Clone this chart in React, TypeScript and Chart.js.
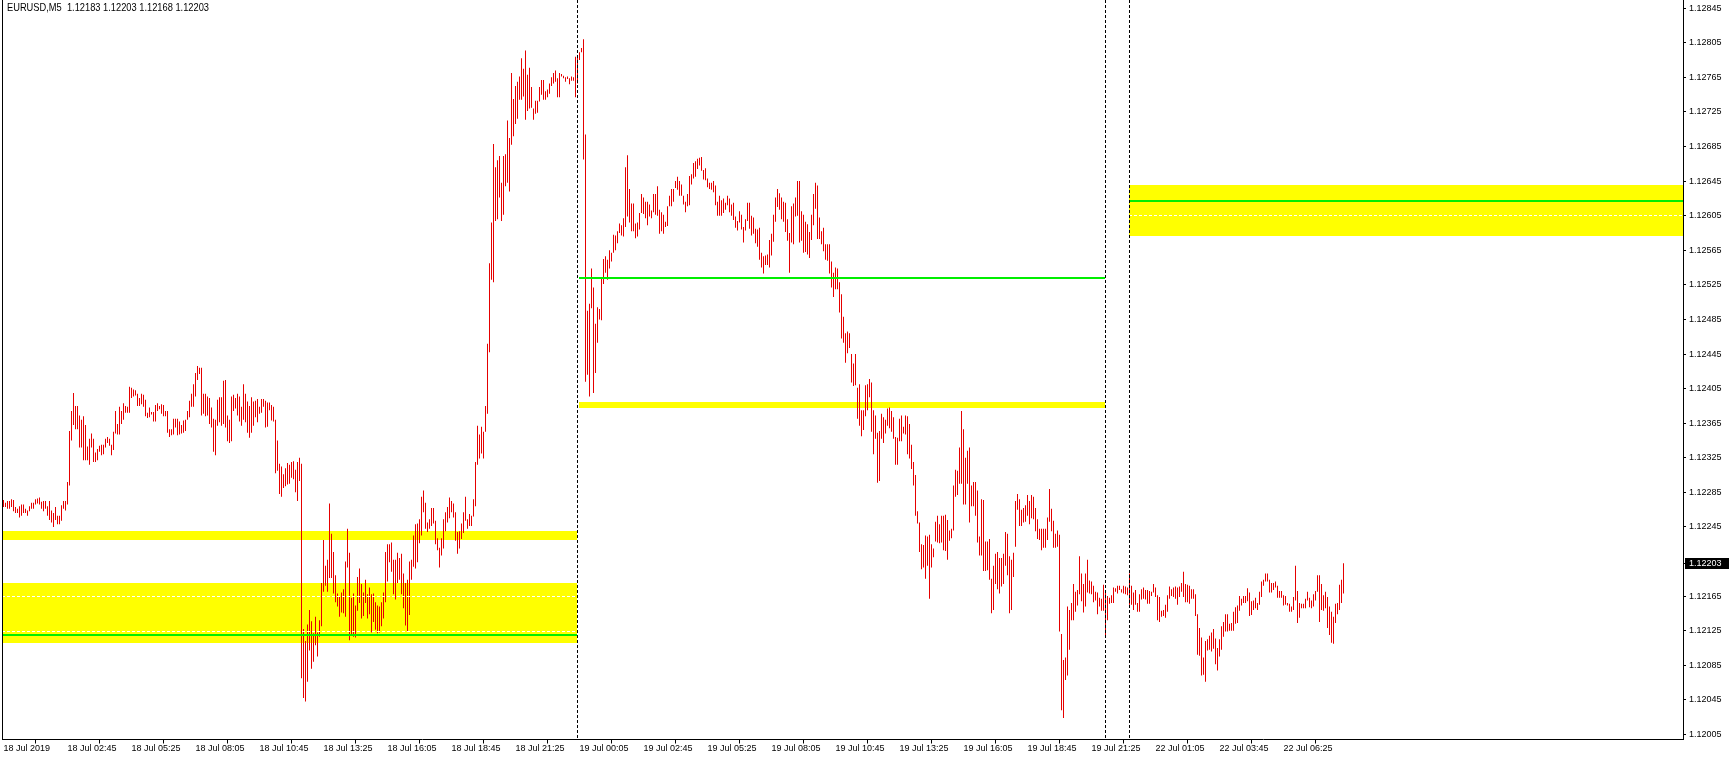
import React, { useEffect, useRef } from 'react';
import { Chart, registerables } from 'chart.js';

Chart.register(...registerables);

// ---- header values ----
const SYMBOL = 'EURUSD,M5';
const LAST_OHLC = [1.12183, 1.12203, 1.12168, 1.12203];
const CURRENT_PRICE = 1.12203;

// ---- M5 bars (high / low), bar index 0 = 18 Jul 2019 00:05 ----
const BAR_HIGHS = [
1.12276,1.12273,1.12275,1.12275,1.12277,1.12276,1.12268,1.12266,1.12269,1.12271,
1.12271,1.12266,1.12264,1.12269,1.12273,1.12273,1.12277,1.12278,1.12279,1.12274,
1.12275,1.12275,1.12269,1.12275,1.12264,1.12261,1.12268,1.12258,1.12258,1.12270,
1.12275,1.12275,1.12297,1.12356,1.12379,1.12400,1.12385,1.12385,1.12374,1.12369,
1.12373,1.12363,1.12338,1.12347,1.12353,1.12347,1.12331,1.12335,1.12339,1.12340,
1.12340,1.12347,1.12349,1.12347,1.12340,1.12355,1.12379,1.12364,1.12384,1.12379,
1.12388,1.12385,1.12384,1.12407,1.12406,1.12404,1.12403,1.12399,1.12394,1.12399,
1.12398,1.12392,1.12377,1.12383,1.12378,1.12378,1.12386,1.12388,1.12385,1.12387,
1.12386,1.12379,1.12379,1.12358,1.12358,1.12370,1.12370,1.12370,1.12367,1.12363,
1.12368,1.12369,1.12379,1.12391,1.12399,1.12410,1.12423,1.12431,1.12429,1.12429,
1.12399,1.12399,1.12396,1.12394,1.12383,1.12370,1.12369,1.12392,1.12395,1.12395,
1.12414,1.12415,1.12374,1.12369,1.12396,1.12398,1.12394,1.12399,1.12396,1.12384,
1.12410,1.12399,1.12390,1.12385,1.12395,1.12390,1.12391,1.12393,1.12384,1.12393,
1.12393,1.12391,1.12389,1.12389,1.12386,1.12384,1.12369,1.12345,1.12318,1.12315,
1.12306,1.12313,1.12319,1.12317,1.12320,1.12321,1.12311,1.12320,1.12325,1.12318,
1.12127,1.12113,1.12132,1.12149,1.12136,1.12122,1.12141,1.12123,1.12137,1.12180,
1.12230,1.12200,1.12207,1.12272,1.12237,1.12216,1.12189,1.12168,1.12165,1.12169,
1.12173,1.12205,1.12243,1.12215,1.12163,1.12168,1.12154,1.12187,1.12197,1.12179,
1.12169,1.12184,1.12167,1.12175,1.12167,1.12168,1.12158,1.12154,1.12153,1.12158,
1.12169,1.12216,1.12225,1.12225,1.12227,1.12207,1.12207,1.12215,1.12209,1.12214,
1.12191,1.12180,1.12184,1.12205,1.12207,1.12235,1.12248,1.12249,1.12254,1.12280,
1.12287,1.12273,1.12250,1.12254,1.12267,1.12267,1.12252,1.12232,1.12221,1.12232,
1.12254,1.12262,1.12268,1.12279,1.12275,1.12272,1.12262,1.12239,1.12240,1.12249,
1.12262,1.12280,1.12254,1.12260,1.12258,1.12277,1.12320,1.12362,1.12352,1.12361,
1.12355,1.12385,1.12457,1.12550,1.12597,1.12688,1.12661,1.12669,1.12674,1.12643,
1.12674,1.12676,1.12715,1.12695,1.12770,1.12740,1.12755,1.12760,1.12766,1.12787,
1.12775,1.12796,1.12768,1.12776,1.12754,1.12729,1.12738,1.12738,1.12754,1.12762,
1.12762,1.12749,1.12751,1.12758,1.12765,1.12770,1.12773,1.12764,1.12770,1.12769,
1.12767,1.12765,1.12766,1.12764,1.12766,1.12765,1.12789,1.12788,1.12794,1.12799,
1.12809,1.12699,1.12495,1.12503,1.12544,1.12522,1.12480,1.12499,1.12497,1.12533,
1.12555,1.12558,1.12554,1.12565,1.12562,1.12583,1.12582,1.12587,1.12596,1.12594,
1.12602,1.12661,1.12675,1.12636,1.12619,1.12619,1.12596,1.12597,1.12608,1.12630,
1.12626,1.12621,1.12621,1.12618,1.12611,1.12630,1.12630,1.12639,1.12612,1.12609,
1.12606,1.12598,1.12616,1.12628,1.12636,1.12636,1.12645,1.12650,1.12645,1.12641,
1.12628,1.12621,1.12630,1.12651,1.12653,1.12666,1.12668,1.12671,1.12672,1.12673,
1.12658,1.12660,1.12648,1.12643,1.12643,1.12645,1.12640,1.12621,1.12628,1.12623,
1.12625,1.12620,1.12628,1.12625,1.12618,1.12620,1.12604,1.12599,1.12610,1.12606,
1.12592,1.12601,1.12620,1.12620,1.12605,1.12603,1.12590,1.12589,1.12591,1.12562,
1.12558,1.12559,1.12560,1.12577,1.12584,1.12606,1.12626,1.12636,1.12631,1.12626,
1.12621,1.12620,1.12601,1.12585,1.12616,1.12619,1.12626,1.12645,1.12645,1.12610,
1.12606,1.12598,1.12595,1.12586,1.12606,1.12630,1.12643,1.12640,1.12603,1.12587,
1.12591,1.12572,1.12572,1.12572,1.12552,1.12539,1.12545,1.12544,1.12528,1.12514,
1.12488,1.12469,1.12471,1.12469,1.12445,1.12434,1.12445,1.12406,1.12410,1.12380,
1.12380,1.12409,1.12410,1.12416,1.12412,1.12380,1.12374,1.12354,1.12356,1.12376,
1.12372,1.12369,1.12382,1.12383,1.12379,1.12372,1.12349,1.12348,1.12370,1.12374,
1.12361,1.12374,1.12373,1.12364,1.12340,1.12320,1.12305,1.12263,1.12250,1.12225,
1.12224,1.12235,1.12234,1.12236,1.12225,1.12220,1.12251,1.12258,1.12248,1.12258,
1.12258,1.12259,1.12253,1.12241,1.12243,1.12293,1.12311,1.12310,1.12337,1.12379,
1.12358,1.12325,1.12333,1.12337,1.12293,1.12297,1.12297,1.12287,1.12234,1.12277,
1.12276,1.12228,1.12228,1.12231,1.12185,1.12200,1.12214,1.12216,1.12209,1.12209,
1.12214,1.12239,1.12237,1.12211,1.12207,1.12215,1.12275,1.12283,1.12277,1.12265,
1.12267,1.12270,1.12282,1.12275,1.12282,1.12280,1.12267,1.12254,1.12243,1.12243,
1.12243,1.12243,1.12256,1.12289,1.12266,1.12252,1.12237,1.12241,1.12236,1.12121,
1.12091,1.12094,1.12153,1.12149,1.12157,1.12179,1.12170,1.12172,1.12211,1.12191,
1.12179,1.12191,1.12207,1.12183,1.12182,1.12177,1.12170,1.12169,1.12163,1.12162,
1.12178,1.12172,1.12165,1.12163,1.12166,1.12175,1.12174,1.12177,1.12177,1.12173,
1.12177,1.12176,1.12175,1.12191,1.12177,1.12169,1.12172,1.12157,1.12167,1.12173,
1.12175,1.12172,1.12172,1.12171,1.12170,1.12179,1.12175,1.12166,1.12164,1.12148,
1.12149,1.12155,1.12166,1.12176,1.12173,1.12175,1.12176,1.12175,1.12176,1.12180,
1.12193,1.12179,1.12178,1.12177,1.12173,1.12173,1.12167,1.12144,1.12128,1.12117,
1.12094,1.12113,1.12115,1.12119,1.12123,1.12127,1.12116,1.12105,1.12115,1.12130,
1.12135,1.12144,1.12144,1.12133,1.12134,1.12147,1.12152,1.12154,1.12165,1.12162,
1.12165,1.12165,1.12174,1.12169,1.12159,1.12160,1.12163,1.12157,1.12170,1.12182,
1.12184,1.12191,1.12191,1.12184,1.12180,1.12180,1.12182,1.12177,1.12171,1.12171,
1.12166,1.12165,1.12157,1.12156,1.12153,1.12164,1.12200,1.12171,1.12157,1.12156,
1.12156,1.12162,1.12170,1.12163,1.12160,1.12167,1.12171,1.12189,1.12189,1.12179,
1.12166,1.12170,1.12164,1.12153,1.12147,1.12141,1.12156,1.12157,1.12178,1.12184,
1.12203
];

const BAR_LOWS = [
1.12268,1.12268,1.12266,1.12266,1.12268,1.12263,1.12261,1.12261,1.12256,1.12258,
1.12261,1.12261,1.12258,1.12263,1.12266,1.12266,1.12271,1.12272,1.12271,1.12266,
1.12263,1.12266,1.12258,1.12253,1.12250,1.12245,1.12253,1.12248,1.12248,1.12252,
1.12266,1.12264,1.12271,1.12293,1.12345,1.12363,1.12358,1.12358,1.12337,1.12337,
1.12322,1.12322,1.12322,1.12317,1.12337,1.12320,1.12320,1.12322,1.12332,1.12328,
1.12329,1.12337,1.12342,1.12339,1.12328,1.12334,1.12353,1.12352,1.12352,1.12364,
1.12369,1.12377,1.12377,1.12377,1.12394,1.12396,1.12397,1.12385,1.12385,1.12387,
1.12384,1.12373,1.12371,1.12372,1.12375,1.12367,1.12367,1.12379,1.12381,1.12376,
1.12373,1.12373,1.12354,1.12349,1.12351,1.12352,1.12360,1.12351,1.12352,1.12353,
1.12354,1.12356,1.12369,1.12372,1.12384,1.12384,1.12396,1.12415,1.12422,1.12374,
1.12376,1.12373,1.12374,1.12364,1.12360,1.12332,1.12328,1.12362,1.12366,1.12362,
1.12364,1.12360,1.12344,1.12342,1.12344,1.12379,1.12382,1.12374,1.12367,1.12362,
1.12369,1.12366,1.12354,1.12348,1.12354,1.12362,1.12372,1.12366,1.12376,1.12377,
1.12384,1.12360,1.12361,1.12380,1.12368,1.12367,1.12307,1.12310,1.12283,1.12280,
1.12290,1.12292,1.12294,1.12295,1.12302,1.12300,1.12285,1.12275,1.12298,1.12070,
1.12047,1.12043,1.12066,1.12102,1.12081,1.12089,1.12108,1.12095,1.12118,1.12130,
1.12170,1.12177,1.12170,1.12186,1.12186,1.12168,1.12158,1.12153,1.12141,1.12146,
1.12145,1.12141,1.12198,1.12114,1.12119,1.12118,1.12117,1.12148,1.12157,1.12139,
1.12142,1.12157,1.12139,1.12144,1.12123,1.12135,1.12126,1.12122,1.12123,1.12130,
1.12139,1.12158,1.12182,1.12204,1.12193,1.12167,1.12161,1.12180,1.12184,1.12167,
1.12151,1.12131,1.12124,1.12143,1.12184,1.12199,1.12197,1.12204,1.12226,1.12235,
1.12262,1.12243,1.12239,1.12243,1.12246,1.12249,1.12225,1.12218,1.12198,1.12212,
1.12220,1.12240,1.12250,1.12255,1.12262,1.12256,1.12229,1.12214,1.12220,1.12231,
1.12238,1.12252,1.12243,1.12246,1.12246,1.12257,1.12269,1.12317,1.12324,1.12330,
1.12324,1.12355,1.12376,1.12447,1.12531,1.12528,1.12599,1.12601,1.12626,1.12599,
1.12606,1.12639,1.12643,1.12633,1.12687,1.12697,1.12711,1.12717,1.12739,1.12739,
1.12743,1.12716,1.12726,1.12729,1.12730,1.12716,1.12723,1.12724,1.12737,1.12745,
1.12739,1.12739,1.12742,1.12746,1.12755,1.12758,1.12760,1.12742,1.12742,1.12766,
1.12764,1.12760,1.12763,1.12757,1.12761,1.12761,1.12742,1.12758,1.12785,1.12794,
1.12670,1.12413,1.12421,1.12396,1.12498,1.12400,1.12423,1.12458,1.12485,1.12484,
1.12526,1.12539,1.12531,1.12544,1.12552,1.12562,1.12565,1.12573,1.12585,1.12582,
1.12581,1.12592,1.12604,1.12597,1.12587,1.12587,1.12579,1.12581,1.12589,1.12608,
1.12607,1.12602,1.12594,1.12604,1.12602,1.12609,1.12606,1.12605,1.12584,1.12587,
1.12584,1.12592,1.12593,1.12616,1.12616,1.12621,1.12637,1.12635,1.12628,1.12628,
1.12618,1.12609,1.12616,1.12617,1.12641,1.12648,1.12650,1.12659,1.12663,1.12657,
1.12647,1.12646,1.12638,1.12636,1.12635,1.12632,1.12617,1.12605,1.12605,1.12605,
1.12608,1.12612,1.12617,1.12609,1.12605,1.12600,1.12591,1.12588,1.12597,1.12589,
1.12574,1.12588,1.12599,1.12590,1.12582,1.12584,1.12573,1.12569,1.12554,1.12545,
1.12538,1.12548,1.12548,1.12545,1.12559,1.12575,1.12598,1.12615,1.12612,1.12601,
1.12598,1.12586,1.12576,1.12539,1.12574,1.12572,1.12604,1.12605,1.12574,1.12576,
1.12562,1.12563,1.12560,1.12556,1.12577,1.12594,1.12613,1.12578,1.12578,1.12572,
1.12564,1.12554,1.12553,1.12538,1.12522,1.12511,1.12520,1.12520,1.12493,1.12463,
1.12458,1.12435,1.12446,1.12452,1.12412,1.12408,1.12409,1.12370,1.12362,1.12350,
1.12357,1.12373,1.12380,1.12395,1.12355,1.12329,1.12347,1.12296,1.12298,1.12347,
1.12342,1.12353,1.12362,1.12359,1.12355,1.12347,1.12317,1.12317,1.12344,1.12344,
1.12353,1.12352,1.12329,1.12324,1.12312,1.12293,1.12258,1.12249,1.12216,1.12196,
1.12198,1.12185,1.12200,1.12162,1.12198,1.12210,1.12228,1.12227,1.12226,1.12227,
1.12218,1.12217,1.12207,1.12229,1.12232,1.12241,1.12280,1.12282,1.12295,1.12295,
1.12271,1.12271,1.12295,1.12250,1.12269,1.12269,1.12258,1.12227,1.12212,1.12212,
1.12194,1.12194,1.12195,1.12184,1.12145,1.12149,1.12179,1.12173,1.12168,1.12176,
1.12179,1.12200,1.12189,1.12145,1.12149,1.12187,1.12222,1.12265,1.12246,1.12246,
1.12250,1.12251,1.12258,1.12248,1.12255,1.12254,1.12240,1.12231,1.12230,1.12218,
1.12221,1.12221,1.12230,1.12251,1.12240,1.12221,1.12221,1.12222,1.12124,1.12033,
1.12024,1.12068,1.12073,1.12103,1.12137,1.12137,1.12147,1.12154,1.12167,1.12159,
1.12146,1.12153,1.12169,1.12168,1.12167,1.12158,1.12160,1.12144,1.12153,1.12148,
1.12148,1.12119,1.12137,1.12156,1.12157,1.12157,1.12170,1.12168,1.12172,1.12169,
1.12168,1.12167,1.12166,1.12155,1.12155,1.12149,1.12155,1.12147,1.12147,1.12161,
1.12162,1.12161,1.12156,1.12156,1.12165,1.12169,1.12164,1.12137,1.12135,1.12141,
1.12142,1.12140,1.12147,1.12162,1.12165,1.12164,1.12162,1.12155,1.12164,1.12170,
1.12164,1.12158,1.12158,1.12156,1.12162,1.12162,1.12142,1.12097,1.12096,1.12073,
1.12074,1.12066,1.12102,1.12103,1.12101,1.12104,1.12086,1.12079,1.12095,1.12103,
1.12118,1.12124,1.12124,1.12125,1.12125,1.12125,1.12133,1.12134,1.12148,1.12154,
1.12157,1.12157,1.12159,1.12142,1.12143,1.12149,1.12151,1.12149,1.12155,1.12164,
1.12177,1.12182,1.12182,1.12169,1.12169,1.12172,1.12175,1.12163,1.12163,1.12163,
1.12154,1.12155,1.12154,1.12147,1.12147,1.12149,1.12160,1.12134,1.12140,1.12151,
1.12151,1.12151,1.12160,1.12152,1.12151,1.12153,1.12160,1.12170,1.12135,1.12149,
1.12148,1.12151,1.12128,1.12120,1.12111,1.12110,1.12134,1.12144,1.12149,1.12157,
1.12168
];

// ---- time axis labels (bar index of each label) ----
const TIME_LABELS = [
  '18 Jul 2019', '18 Jul 02:45', '18 Jul 05:25', '18 Jul 08:05', '18 Jul 10:45', '18 Jul 13:25',
  '18 Jul 16:05', '18 Jul 18:45', '18 Jul 21:25', '19 Jul 00:05', '19 Jul 02:45', '19 Jul 05:25',
  '19 Jul 08:05', '19 Jul 10:45', '19 Jul 13:25', '19 Jul 16:05', '19 Jul 18:45', '19 Jul 21:25',
  '22 Jul 01:05', '22 Jul 03:45', '22 Jul 06:25',
];
const TIME_LABEL_BARS = [0, 32, 64, 96, 128, 160, 192, 224, 256, 288, 320, 352, 384, 416, 448, 480, 512, 544, 576, 608, 640];

// ---- price axis ----
const PRICE_TICKS = [
  1.12005, 1.12045, 1.12085, 1.12125, 1.12165, 1.12203, 1.12245, 1.12285, 1.12325, 1.12365, 1.12405,
  1.12445, 1.12485, 1.12525, 1.12565, 1.12605, 1.12645, 1.12685, 1.12725, 1.12765, 1.12805, 1.12845,
];
const PRICE_MIN = 1.119991;
const PRICE_MAX = 1.128545;
const BAR_MIN = -0.75;
const BAR_MAX = 839.75;

// ---- period separators (bar index) ----
const SEPARATOR_BARS = [287, 551, 563];

// ---- yellow zones ----
const ZONE_FROM = [-2, -2, 288, 563];
const ZONE_TO = [287, 287, 551, 900];
const ZONE_HIGH = [1.1224, 1.1218, 1.1239, 1.1264];
const ZONE_LOW = [1.1223, 1.12111, 1.12382, 1.12581];

// ---- green levels ----
const GREEN_FROM = [-2, 288, 563];
const GREEN_TO = [287, 551, 900];
const GREEN_LEVEL = [1.1212, 1.12533, 1.12622];

// ---- white dashed levels ----
const DASH_FROM = [-2, -2, 563];
const DASH_TO = [287, 287, 900];
const DASH_LEVEL = [1.12165, 1.12125, 1.12606];

const AXIS_FONT = { family: '"Liberation Sans", Arial, sans-serif', size: 9 };
const BAR_COLOR = '#e60000';

export default function App() {
  const ref = useRef<HTMLCanvasElement>(null);

  useEffect(() => {
    document.body.style.margin = '0';
    const canvas = ref.current;
    if (!canvas) return;

    const overlay = {
      id: 'mtOverlay',
      beforeDraw(chart: any) {
        const { ctx, chartArea, scales } = chart;
        const y = Math.round(scales.y.getPixelForValue(CURRENT_PRICE));
        ctx.save();
        ctx.fillStyle = '#000';
        ctx.fillRect(chartArea.right + 2, y - 5, chart.width - chartArea.right - 2, 11);
        ctx.restore();
      },
      beforeDatasetsDraw(chart: any) {
        const { ctx, chartArea: a, scales } = chart;
        const xs = scales.x, ys = scales.y;
        ctx.save();
        ctx.beginPath();
        ctx.rect(a.left, a.top, a.right - a.left, a.bottom - a.top);
        ctx.clip();
        ctx.fillStyle = '#ffff00';
        for (let k = 0; k < ZONE_LOW.length; k++) {
          const x1 = Math.max(a.left, Math.floor(xs.getPixelForValue(ZONE_FROM[k])));
          const x2 = Math.min(a.right, Math.floor(xs.getPixelForValue(ZONE_TO[k])));
          const y1 = Math.round(ys.getPixelForValue(ZONE_HIGH[k]));
          const y2 = Math.round(ys.getPixelForValue(ZONE_LOW[k]));
          ctx.fillRect(x1, y1, x2 - x1, y2 - y1);
        }
        ctx.restore();
      },
      afterDatasetsDraw(chart: any) {
        const { ctx, chartArea: a, scales } = chart;
        const xs = scales.x, ys = scales.y;
        ctx.save();
        ctx.beginPath();
        ctx.rect(a.left, a.top, a.right - a.left, a.bottom - a.top);
        ctx.clip();
        ctx.fillStyle = '#00ee00';
        for (let k = 0; k < GREEN_LEVEL.length; k++) {
          const x1 = Math.max(a.left, Math.floor(xs.getPixelForValue(GREEN_FROM[k])));
          const x2 = Math.min(a.right, Math.floor(xs.getPixelForValue(GREEN_TO[k])));
          const y = Math.round(ys.getPixelForValue(GREEN_LEVEL[k]));
          ctx.fillRect(x1, y - 1, x2 - x1, 2);
        }
        ctx.strokeStyle = '#ffffff';
        ctx.lineWidth = 1;
        ctx.setLineDash([3, 2]);
        for (let k = 0; k < DASH_LEVEL.length; k++) {
          const x1 = Math.max(a.left, Math.floor(xs.getPixelForValue(DASH_FROM[k])));
          const x2 = Math.min(a.right, Math.floor(xs.getPixelForValue(DASH_TO[k])));
          const y = Math.round(ys.getPixelForValue(DASH_LEVEL[k])) + 0.5;
          ctx.beginPath();
          ctx.moveTo(x1, y);
          ctx.lineTo(x2, y);
          ctx.stroke();
        }
        ctx.strokeStyle = '#000000';
        ctx.setLineDash([3, 2]);
        for (const b of SEPARATOR_BARS) {
          const x = Math.floor(xs.getPixelForValue(b)) + 0.5;
          ctx.beginPath();
          ctx.moveTo(x, a.top);
          ctx.lineTo(x, a.bottom);
          ctx.stroke();
        }
        ctx.restore();
      },
      afterDraw(chart: any) {
        const { ctx, chartArea: a } = chart;
        ctx.save();
        ctx.fillStyle = '#000';
        ctx.fillRect(a.left, a.top, 1, a.bottom - a.top);
        ctx.font = '11px "Liberation Sans", Arial, sans-serif';
        ctx.textBaseline = 'alphabetic';
        ctx.textAlign = 'left';
        const text = SYMBOL + '  ' + LAST_OHLC.map((v) => v.toFixed(5)).join(' ');
        const w = ctx.measureText(text).width;
        ctx.translate(7, 11);
        ctx.scale(w > 0 ? 202 / w : 1, 1);
        ctx.fillText(text, 0, 0);
        ctx.restore();
      },
    };

    const data = BAR_HIGHS.map((h, i) => ({ x: i, y: [BAR_LOWS[i], h] }));

    const chart = new Chart(canvas, {
      type: 'bar',
      data: {
        datasets: [
          {
            data: data as any,
            backgroundColor: BAR_COLOR,
            borderWidth: 0,
            barThickness: 1,
            inflateAmount: 0,
          } as any,
        ],
      },
      options: {
        responsive: false,
        devicePixelRatio: 1,
        animation: false,
        events: [],
        layout: { autoPadding: false, padding: { left: 2, right: 0, top: 0, bottom: 0 } },
        plugins: { legend: { display: false }, tooltip: { enabled: false }, title: { display: false } },
        scales: {
          x: {
            type: 'linear',
            min: BAR_MIN,
            max: BAR_MAX,
            offset: false,
            bounds: 'data',
            afterBuildTicks: (s: any) => {
              s.ticks = TIME_LABEL_BARS.map((v) => ({ value: v }));
            },
            afterFit: (s: any) => {
              s.height = 20.5;
              s.paddingLeft = 0;
              s.paddingRight = 0;
            },
            ticks: {
              autoSkip: false,
              maxRotation: 0,
              minRotation: 0,
              align: 'start',
              padding: 0,
              color: '#000',
              font: AXIS_FONT,
              callback: (_v: any, i: number) => TIME_LABELS[i],
            },
            grid: { display: true, drawOnChartArea: false, drawTicks: true, tickLength: 4, color: '#000' },
            border: { display: true, color: '#000', width: 1 },
          } as any,
          y: {
            type: 'linear',
            position: 'right',
            min: PRICE_MIN,
            max: PRICE_MAX,
            bounds: 'data',
            beginAtZero: false,
            afterBuildTicks: (s: any) => {
              s.ticks = PRICE_TICKS.map((v) => ({ value: v }));
            },
            afterFit: (s: any) => {
              s.width = 46;
              s.paddingTop = 0;
              s.paddingBottom = 0;
            },
            ticks: {
              autoSkip: false,
              padding: 3,
              font: AXIS_FONT,
              color: (c: any) => (c.tick && c.tick.value === CURRENT_PRICE ? '#ffffff' : '#000000'),
              callback: (v: any) => Number(v).toFixed(5),
            },
            grid: { display: true, drawOnChartArea: false, drawTicks: true, tickLength: 3, color: '#000' },
            border: { display: true, color: '#000', width: 1 },
          } as any,
        },
      } as any,
      plugins: [overlay],
    });

    return () => chart.destroy();
  }, []);

  return (
    <div style={{ position: 'absolute', left: 0, top: 0, width: 1729, height: 760, background: '#fff' }}>
      <canvas ref={ref} width={1729} height={760} style={{ display: 'block', width: 1729, height: 760 }} />
    </div>
  );
}
